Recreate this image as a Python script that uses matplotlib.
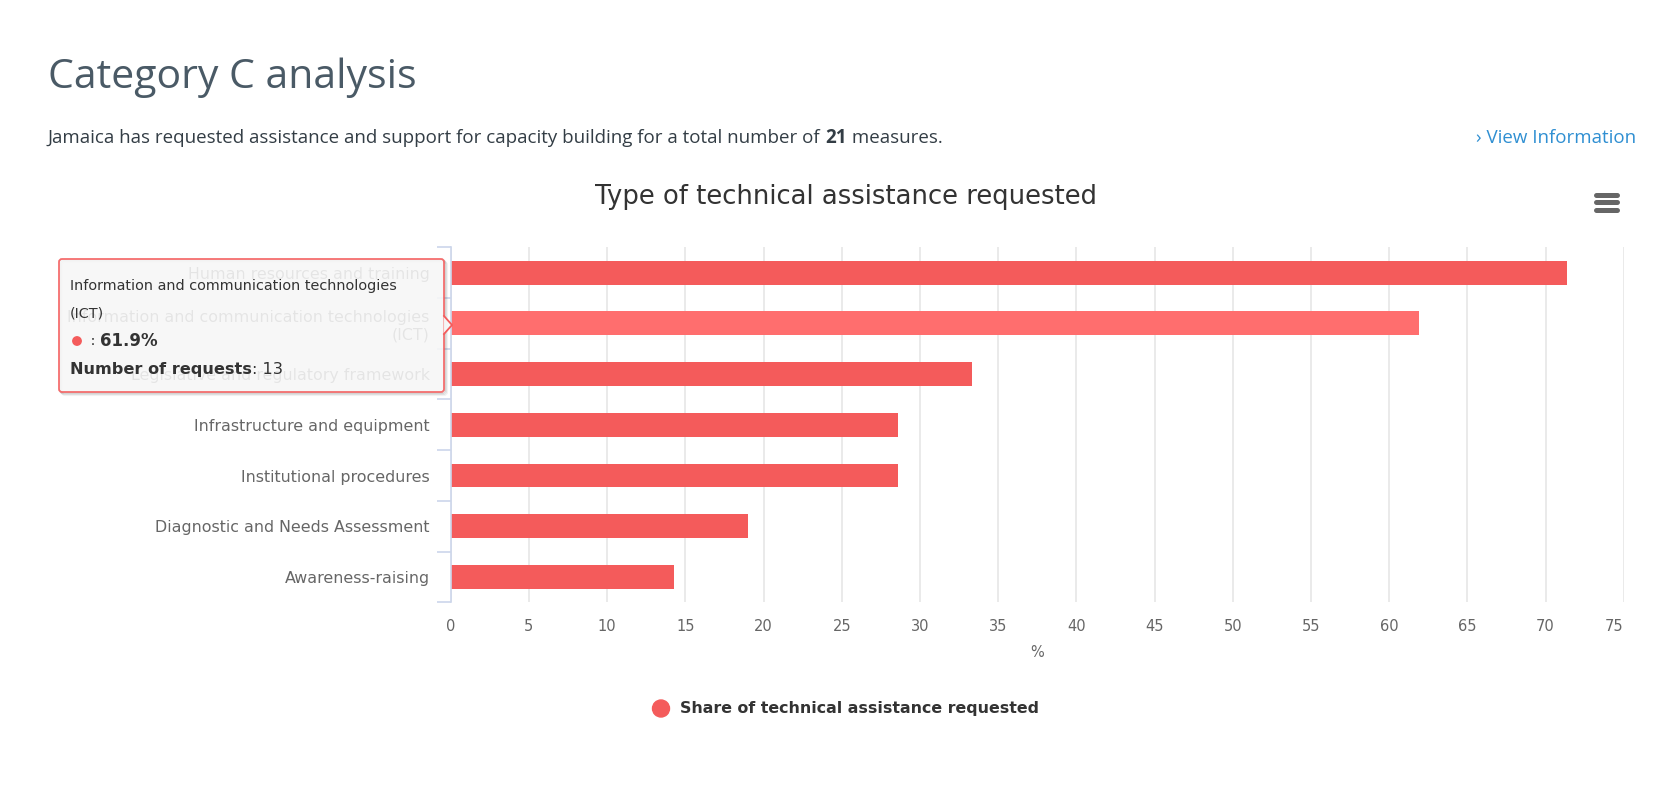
import matplotlib
matplotlib.use("Agg")
import matplotlib.pyplot as plt
from matplotlib.patches import FancyBboxPatch, Polygon, Circle
from matplotlib.transforms import ScaledTranslation
import numpy as np

# ---------------- data ----------------
categories = [
    "Human resources and training",
    "Information and communication technologies\n(ICT)",
    "Legislative and regulatory framework",
    "Infrastructure and equipment",
    "Institutional procedures",
    "Diagnostic and Needs Assessment",
    "Awareness-raising",
]
shares = [71.4, 61.9, 33.3, 28.6, 28.6, 19.0, 14.3]
requests = [15, 13, 7, 6, 6, 4, 3]
x_ticks = list(range(0, 80, 5))
total_measures = 21
hover_index = 1

W, H = 1664, 788
DPI = 100
fig = plt.figure(figsize=(W / DPI, H / DPI), dpi=DPI)
fig.patch.set_facecolor("white")

CHART_FONT = ["DejaVu Sans"]
HEAD_FONT = ["Open Sans", "DejaVu Sans"]

# plot area in pixels
L, R, T, B = 450.7, 1623.7, 247.3, 602.3
ax = fig.add_axes([L / W, 1 - B / H, (R - L) / W, (B - T) / H])

bar_colors = ["#f45b5b"] * len(shares)
bar_colors[hover_index] = "#ff6e6e"
y = np.arange(len(categories))
ax.barh(y, shares, height=0.47, color=bar_colors, zorder=3)

ax.set_xlim(0, 75)
ax.set_ylim(len(categories) - 0.5, -0.5)
ax.set_xticks(x_ticks)
ax.set_xticklabels([str(t) for t in x_ticks], fontsize=10.5, color="#666666",
                   family=CHART_FONT)
ax.tick_params(axis="x", length=0, pad=12)
ax.grid(axis="x", color="#e6e6e6", linewidth=1.2, zorder=0)
ax.set_axisbelow(True)
# last label is pulled inside the chart, as in the reference
last = ax.get_xticklabels()[-1]
last.set_transform(last.get_transform() + ScaledTranslation(-10 / DPI, 0, fig.dpi_scale_trans))

# y axis: ticks on category boundaries, labels at centers
ax.set_yticks(np.arange(-0.5, len(categories), 1.0))
ax.set_yticklabels([])
ax.set_yticks(y, minor=True)
ax.set_yticklabels(categories, minor=True, fontsize=11.4, color="#666666",
                   family=CHART_FONT)
ax.tick_params(axis="y", which="major", length=10, width=1.2, color="#ccd6eb")
ax.tick_params(axis="y", which="minor", length=0, pad=15)

for s in ["top", "right", "bottom"]:
    ax.spines[s].set_visible(False)
ax.spines["left"].set_color("#ccd6eb")
ax.spines["left"].set_linewidth(1.2)
ax.spines["left"].set_zorder(4)

ax.set_xlabel("%", fontsize=10.5, color="#666666", family=CHART_FONT, labelpad=8)

# ---------------- overlay in pixel coordinates ----------------
ov = fig.add_axes([0, 0, 1, 1])
ov.set_xlim(0, W)
ov.set_ylim(H, 0)
ov.axis("off")
ov.patch.set_alpha(0)

renderer = fig.canvas.get_renderer()


def runs(x, yy, parts, **kw):
    """Draw sequential text runs [(text, props), ...] starting at x."""
    for txt, props in parts:
        p = dict(kw)
        p.update(props)
        t = ov.text(x, yy, txt, va="center", ha="left", **p)
        bb = t.get_window_extent(renderer=renderer)
        x += bb.width
    return x


# heading
ov.text(48, 78, "Category C analysis", fontsize=29.5, color="#4a5a66",
        family=HEAD_FONT, va="center", ha="left")
runs(48, 138, [
    ("Jamaica has requested assistance and support for capacity building for a total number of ", {}),
    (str(total_measures), {"fontweight": "bold"}),
    (" measures.", {}),
], fontsize=13.5, color="#333d45", family=HEAD_FONT)
ov.text(1636, 138, "\u203a View Information", fontsize=13.5, color="#2f8fd2",
        family=HEAD_FONT, va="center", ha="right")

# chart title
ov.text(846, 197, "Type of technical assistance requested", fontsize=18.6,
        color="#333333", family=CHART_FONT, va="center", ha="center")

# hamburger menu
for yy in (194.5, 202, 209.5):
    ov.plot([1596, 1617], [yy, yy], color="#666666", linewidth=3.6,
            solid_capstyle="round")

# legend
ov.add_patch(Circle((661, 708.5), 8.5, color="#f45b5b"))
ov.text(680, 708.5, "Share of technical assistance requested", fontsize=11.4,
        fontweight="bold", color="#333333", family=CHART_FONT,
        va="center", ha="left")

# tooltip
tx0, ty0, tx1, ty1 = 59, 259, 444, 392
pcy = 325
# shadow
for off, a in ((3, 0.05), (2, 0.07), (1, 0.1)):
    ov.add_patch(FancyBboxPatch((tx0 + off, ty0 + off), tx1 - tx0, ty1 - ty0,
                                boxstyle="round,pad=0,rounding_size=3",
                                facecolor="none", edgecolor="black",
                                alpha=a, linewidth=1.5))
box = FancyBboxPatch((tx0, ty0), tx1 - tx0, ty1 - ty0,
                     boxstyle="round,pad=0,rounding_size=3",
                     facecolor="#f7f7f7", edgecolor="#f45b5b",
                     alpha=0.88, linewidth=1.3)
ov.add_patch(box)
ov.add_patch(Polygon([[tx1 - 0.5, pcy - 9], [tx1 + 8, pcy], [tx1 - 0.5, pcy + 9]],
                     closed=True, facecolor="#f7f7f7", edgecolor="none", alpha=0.95))
ov.plot([tx1, tx1 + 8, tx1], [pcy - 9, pcy, pcy + 9], color="#f45b5b",
        linewidth=1.3)

tt = categories[hover_index].split("\n")
ov.text(70, 286, tt[0], fontsize=10.4, color="#333333", family=CHART_FONT,
        va="center", ha="left")
ov.text(70, 313, tt[1], fontsize=10.4, color="#333333", family=CHART_FONT,
        va="center", ha="left")
ov.add_patch(Circle((77, 341), 4.2, color="#f45b5b"))
runs(86, 341, [
    (" : ", {"fontsize": 10.4}),
    (f"{shares[hover_index]:.1f}%", {"fontsize": 12, "fontweight": "bold"}),
], color="#333333", family=CHART_FONT)
runs(70, 369, [
    ("Number of requests", {"fontweight": "bold"}),
    (f": {requests[hover_index]}", {}),
], fontsize=11.6, color="#333333", family=CHART_FONT)

fig.savefig("out.png", dpi=DPI, facecolor="white")
